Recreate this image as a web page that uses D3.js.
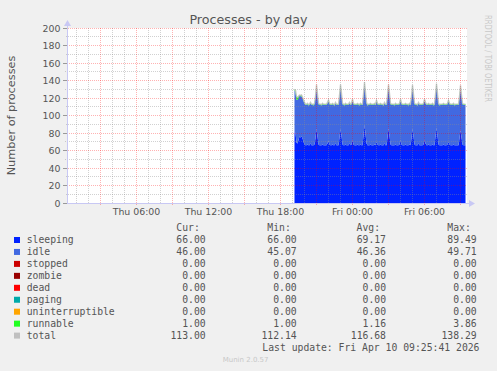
<!DOCTYPE html>
<html>
<head>
<meta charset="utf-8">
<script src="https://cdn.jsdelivr.net/npm/d3@7"></script>
<style>
    body { margin: 0; background: #f0f0f0; }
    svg { display: block; }
</style>
</head>
<body>
<svg id="chart" width="497" height="371"></svg>
<script>
// 5 minute samples from Thu 19:10, one row per hour
const sampleStart = new Date(2026, 3, 9, 19, 10);
const sampleStep = 5;

const sleeping = [
    81, 80, 69, 68, 72, 76, 75, 76, 74, 70, 67, 66,
    66, 67, 66, 66, 68, 66, 66, 66, 67, 74, 85, 76,
    67, 66, 66, 66, 67, 66, 66, 66, 66, 68, 71, 67,
    66, 66, 67, 66, 66, 68, 66, 66, 66, 75, 84.5, 77,
    67, 66, 66, 67, 66, 66, 66, 68, 66, 67, 72, 67,
    66, 66, 66, 67, 66, 66, 67, 66, 66, 77, 89.5, 79,
    68, 66, 66, 66, 67, 66, 66, 66, 67, 66, 70, 67,
    66, 66, 67, 66, 66, 66, 68, 66, 66, 75, 85.5, 77,
    67, 66, 66, 66, 66, 67, 66, 66, 66, 67, 72, 67,
    66, 66, 66, 67, 66, 66, 66, 67, 66, 74, 85, 76,
    67, 66, 66, 66, 68, 66, 66, 66, 66, 67, 72, 68,
    66, 66, 67, 66, 66, 66, 67, 66, 66, 76, 86, 77,
    67, 66, 66, 66, 66, 67, 66, 66, 66, 67, 70, 67,
    66, 66, 66, 67, 66, 66, 66, 66, 66, 74, 83.5, 75,
    67, 66, 66, 66
];

const idle = [
    47.5, 47, 49, 49.7, 48, 46.5, 47, 46, 46, 47, 47, 46,
    46, 46, 45.5, 46, 46, 46, 46, 45.5, 46, 47, 48, 47,
    46, 46, 46, 45.5, 46, 46, 46, 46, 46, 46, 45.5, 46,
    46, 46, 46, 46, 45.5, 46, 46, 46, 46, 47, 48.5, 47,
    46, 46, 45.5, 46, 46, 46, 46, 46, 46, 46, 45.5, 46,
    46, 46, 46, 46, 46, 45.5, 46, 46, 46, 46.5, 46, 46.5,
    46, 45.5, 46, 46, 46, 46, 46, 46, 46, 46, 46, 46,
    46, 46, 46, 46, 46, 45.5, 46, 46, 46, 47, 47.5, 47,
    46, 46, 46, 46, 45.5, 46, 46, 46, 46, 46, 45.5, 46,
    46, 46, 46, 46, 46, 46, 45.5, 46, 46, 47, 48, 47,
    46, 46, 46, 45.5, 46, 46, 46, 46, 46, 46, 45.5, 46,
    46, 46, 46, 46, 46, 46, 46, 45.5, 46, 47, 48, 47,
    46, 45.5, 46, 46, 46, 46, 46, 46, 46, 46, 46, 46,
    46, 46, 46, 46, 45.5, 46, 46, 46, 46, 47, 48.5, 47,
    46, 46, 46, 46
];

const runnable = [
    1.5, 2, 3.86, 3, 2, 1, 1, 1.5, 1, 1, 1, 1,
    1, 1, 1, 1, 1, 1, 1, 1, 1, 1.5, 2.5, 1.5,
    1, 1, 1, 1, 1, 1, 1, 1, 1, 1, 1.5, 1,
    1, 1, 1, 1, 1, 1, 1, 1, 1, 1.5, 2.5, 1.5,
    1, 1, 1, 1, 1, 1, 1, 1, 1, 1, 1.5, 1,
    1, 1, 1, 1, 1, 1, 1, 1, 1, 1.5, 2.8, 1.5,
    1, 1, 1, 1, 1, 1, 1, 1, 1, 1, 1.5, 1,
    1, 1, 1, 1, 1, 1, 1, 1, 1, 1.5, 2.5, 1.5,
    1, 1, 1, 1, 1, 1, 1, 1, 1, 1, 1.5, 1,
    1, 1, 1, 1, 1, 1, 1, 1, 1, 1.5, 2, 1.5,
    1, 1, 1, 1, 1, 1, 1, 1, 1, 1, 1.5, 1,
    1, 1, 1, 1, 1, 1, 1, 1, 1, 1.5, 2.5, 1.5,
    1, 1, 1, 1, 1, 1, 1, 1, 1, 1, 1.5, 1,
    1, 1, 1, 1, 1, 1, 1, 1, 1, 1.5, 2.5, 1.5,
    1, 1, 1, 1
];

const legendNames = ['sleeping', 'idle', 'stopped', 'zombie', 'dead', 'paging', 'uninterruptible', 'runnable', 'total'];
const legendColors = ['#0022ff', '#4169e1', '#cc0000', '#990000', '#ff0000', '#00aaaa', '#ffa500', '#22ff22', '#c0c0c0'];
const curValues = ['66.00', '46.00', '0.00', '0.00', '0.00', '0.00', '0.00', '1.00', '113.00'];
const minValues = ['66.00', '45.07', '0.00', '0.00', '0.00', '0.00', '0.00', '1.00', '112.14'];
const avgValues = ['69.17', '46.36', '0.00', '0.00', '0.00', '0.00', '0.00', '1.16', '116.68'];
const maxValues = ['89.49', '49.71', '0.00', '0.00', '0.00', '0.00', '0.00', '3.86', '138.29'];
const yTicks = [0, 20, 40, 60, 80, 100, 120, 140, 160, 180, 200];

const plot = {left: 67, right: 467, top: 28, bottom: 203};
const svg = d3.select('#chart');
const sans = 'DejaVu Sans, sans-serif';
const mono = 'DejaVu Sans Mono, monospace';

const x = d3.scaleTime()
    .domain([new Date(2026, 3, 9, 0, 12, 30), new Date(2026, 3, 10, 9, 32, 30)])
    .range([plot.left, plot.right]);
const y = d3.scaleLinear().domain([0, 200]).range([plot.bottom, plot.top]);
const pix = v => Math.floor(v + 0.01);

// checker patterns give 1px dotted grid lines
const defs = svg.append('defs');
[['dotMinor', 'rgba(140,140,140,0.4)'], ['dotMajor', 'rgba(255,0,0,0.3)']].forEach(([id, color]) => {
    const p = defs.append('pattern')
        .attr('id', id)
        .attr('patternUnits', 'userSpaceOnUse')
        .attr('width', 2).attr('height', 2);
    p.append('rect').attr('x', 0).attr('y', 0).attr('width', 1).attr('height', 1).attr('fill', color);
    p.append('rect').attr('x', 1).attr('y', 1).attr('width', 1).attr('height', 1).attr('fill', color);
});

svg.append('rect')
    .attr('x', plot.left).attr('y', plot.top)
    .attr('width', plot.right - plot.left).attr('height', plot.bottom - plot.top)
    .attr('fill', '#fff');

const rows = sleeping.map((s, i) => ({
    t: d3.timeMinute.offset(sampleStart, i * sampleStep),
    sleeping: s,
    idle: idle[i],
    runnable: runnable[i]
}));
const stacked = d3.stack().keys(['sleeping', 'idle', 'runnable'])(rows);
const stackColors = {sleeping: '#0022ff', idle: '#4169e1', runnable: '#22ff22'};

const area = d3.area()
    .x(d => x(d.data.t))
    .y0(d => y(d[0]))
    .y1(d => y(d[1]));

svg.append('g').selectAll('path')
    .data(stacked)
    .join('path')
    .attr('d', area)
    .attr('fill', d => stackColors[d.key]);

svg.append('path')
    .datum(rows)
    .attr('d', d3.line().x(d => x(d.t)).y(d => y(d.sleeping + d.idle + d.runnable)))
    .attr('fill', 'none')
    .attr('stroke', '#c0c0c0')
    .attr('stroke-opacity', 0.85)
    .attr('stroke-width', 1.3);

// grid on top of the data, like rrdtool
const [t0, t1] = x.domain();
const hours = d3.timeHour.every(1).range(t0, t1);
const grid = svg.append('g').attr('shape-rendering', 'crispEdges');

grid.selectAll('rect.vminor')
    .data(hours.filter(t => t.getHours() % 3 !== 0))
    .join('rect')
    .attr('x', d => pix(x(d))).attr('width', 1)
    .attr('y', plot.top).attr('height', plot.bottom - plot.top)
    .attr('fill', 'url(#dotMinor)');
grid.selectAll('rect.hminor')
    .data(d3.range(10, 200, 20))
    .join('rect')
    .attr('x', plot.left - 2).attr('width', plot.right - plot.left + 2)
    .attr('y', d => pix(y(d))).attr('height', 1)
    .attr('fill', 'url(#dotMinor)');
grid.selectAll('rect.vmajor')
    .data(hours.filter(t => t.getHours() % 3 === 0))
    .join('rect')
    .attr('x', d => pix(x(d))).attr('width', 1)
    .attr('y', plot.top).attr('height', plot.bottom - plot.top + 3)
    .attr('fill', 'url(#dotMajor)');
grid.selectAll('rect.hmajor')
    .data(yTicks)
    .join('rect')
    .attr('x', plot.left).attr('width', plot.right - plot.left)
    .attr('y', d => pix(y(d))).attr('height', 1)
    .attr('fill', 'url(#dotMajor)');

svg.append('g').selectAll('line')
    .data(yTicks)
    .join('line')
    .attr('x1', plot.left - 4).attr('x2', plot.left)
    .attr('y1', d => pix(y(d)) + 0.5).attr('y2', d => pix(y(d)) + 0.5)
    .attr('stroke', '#999');

// axes
const axisColor = '#c8c8f4';
svg.append('line')
    .attr('x1', plot.left + 0.5).attr('x2', plot.left + 0.5)
    .attr('y1', plot.bottom + 1).attr('y2', 24)
    .attr('stroke', axisColor);
svg.append('line')
    .attr('x1', plot.left).attr('x2', 471)
    .attr('y1', plot.bottom + 0.5).attr('y2', plot.bottom + 0.5)
    .attr('stroke', axisColor);
svg.append('path').attr('d', 'M64,26 L71,26 L67.5,20 Z').attr('fill', axisColor);
svg.append('path').attr('d', 'M469,200 L469,207 L475,203.5 Z').attr('fill', axisColor);

svg.append('g').selectAll('text')
    .data(yTicks)
    .join('text')
    .attr('x', 60.5)
    .attr('y', d => y(d) + 3.5)
    .attr('text-anchor', 'end')
    .attr('font-family', sans).attr('font-size', '9.4px').attr('fill', '#555')
    .text(d => d);

const timeFormat = d3.timeFormat('%a %H:%M');
svg.append('g').selectAll('text')
    .data(d3.timeHour.every(6).range(t0, t1))
    .join('text')
    .attr('x', d => x(d))
    .attr('y', 215)
    .attr('text-anchor', 'middle')
    .attr('font-family', sans).attr('font-size', '9.4px').attr('fill', '#555')
    .text(d => timeFormat(d));

svg.append('text')
    .attr('x', 248.5).attr('y', 24)
    .attr('text-anchor', 'middle')
    .attr('font-family', sans).attr('font-size', '12.7px').attr('fill', '#555')
    .text('Processes - by day');

svg.append('text')
    .attr('transform', 'translate(15,115.5) rotate(-90)')
    .attr('text-anchor', 'middle')
    .attr('font-family', sans).attr('font-size', '11.3px').attr('fill', '#555')
    .text('Number of processes');

svg.append('text')
    .attr('transform', 'translate(484.5,15) rotate(90)')
    .attr('font-family', sans).attr('font-size', '8px').attr('fill', '#c8c8c8')
    .attr('textLength', 87).attr('lengthAdjust', 'spacingAndGlyphs')
    .text('RRDTOOL / TOBI OETIKER');

// legend
const legend = svg.append('g').attr('font-family', mono).attr('font-size', '9.75px').attr('fill', '#555');
const rowY = i => 243 + i * 11.95;
const columns = [
    {right: 205.7, head: 'Cur:', values: curValues},
    {right: 296.7, head: 'Min:', values: minValues},
    {right: 386, head: 'Avg:', values: avgValues},
    {right: 476.7, head: 'Max:', values: maxValues}
];
columns.forEach(col => {
    legend.append('text')
        .attr('x', col.right - 29.4).attr('y', 230.5)
        .text(col.head);
    col.values.forEach((v, i) => {
        legend.append('text')
            .attr('x', col.right).attr('y', rowY(i))
            .attr('text-anchor', 'end')
            .text(v);
    });
});
legendNames.forEach((name, i) => {
    svg.append('rect')
        .attr('x', 14).attr('y', rowY(i) - 6)
        .attr('width', 6).attr('height', 6)
        .attr('fill', legendColors[i]);
    legend.append('text')
        .attr('x', 26.7).attr('y', rowY(i))
        .text(name);
});
legend.append('text')
    .attr('x', 262.3).attr('y', 351)
    .text('Last update: Fri Apr 10 09:25:41 2026');

svg.append('text')
    .attr('x', 222.7).attr('y', 362)
    .attr('font-family', sans).attr('font-size', '7px').attr('fill', '#c8c8c8')
    .text('Munin 2.0.57');
</script>
</body>
</html>
